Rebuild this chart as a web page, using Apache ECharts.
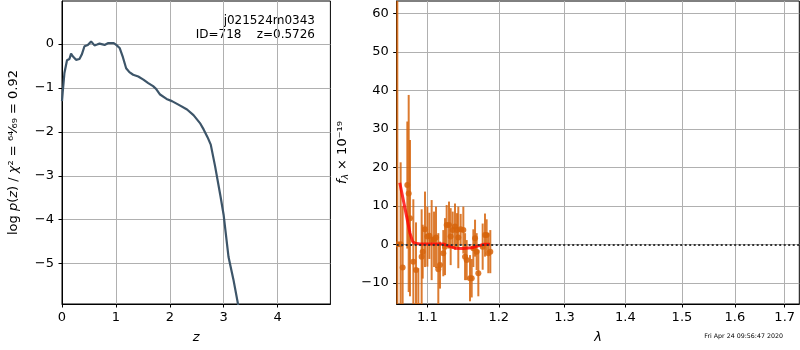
<!DOCTYPE html>
<html><head><meta charset="utf-8">
<script src="https://cdn.jsdelivr.net/npm/echarts@6/dist/echarts.min.js"></script>
<style>html,body{margin:0;padding:0;background:#fff}#c{width:800px;height:350px}</style>
</head><body><div id="c"></div>
<script>
// ---- left panel: log p(z) ----
const zGrid = [0.0, 0.013, 0.045, 0.093, 0.138, 0.168, 0.2, 0.26, 0.324, 0.367, 0.417, 0.479, 0.54, 0.603, 0.65, 0.696, 0.726, 0.79, 0.851, 0.912, 0.96, 1.006, 1.069, 1.13, 1.19, 1.25, 1.32, 1.415, 1.51, 1.6, 1.69, 1.745, 1.82, 1.94, 2.04, 2.16, 2.32, 2.44, 2.56, 2.63, 2.70, 2.76, 2.84, 2.94, 3.0, 3.09, 3.18, 3.27];
const logPz = [-1.3, -1.1, -0.66, -0.37, -0.34, -0.22, -0.28, -0.36, -0.34, -0.24, -0.05, -0.02, 0.06, -0.03, -0.01, 0.01, -0.03, -0.02, 0.02, 0.02, 0.02, -0.02, -0.09, -0.30, -0.55, -0.64, -0.70, -0.74, -0.81, -0.89, -0.96, -1.02, -1.15, -1.25, -1.30, -1.38, -1.49, -1.62, -1.80, -1.95, -2.12, -2.29, -2.78, -3.46, -3.9, -4.85, -5.36, -5.95];
const zTicks = [0, 1, 2, 3, 4];
const logPTicks = [-5, -4, -3, -2, -1, 0];

// ---- right panel: spectrum ----
const specLambda = [1.0605, 1.0648, 1.0674, 1.0735, 1.0753, 1.0770, 1.0814, 1.0849, 1.0880, 1.0924, 1.0938, 1.0969, 1.1000, 1.1027, 1.1058, 1.1090, 1.1117, 1.1148, 1.1171, 1.1216, 1.1239, 1.1262, 1.1294, 1.1317, 1.1345, 1.1377, 1.1405, 1.1423, 1.1456, 1.1493, 1.1517, 1.1540, 1.1587, 1.1611, 1.1634, 1.1658, 1.1681, 1.1705, 1.1767, 1.1800, 1.1824, 1.1848, 1.1877];
const specFlux = [0, 0, -6, 15.4, 13.2, 6.8, -4.5, -6.7, -16, -3.2, -1.9, 3.9, 2.0, 2.2, 1.1, 1.3, 1.8, -6.5, -5.4, -2.3, -0.6, 5.0, 5.0, 2.0, 3.7, 4.6, 3.7, 1.8, 3.9, 3.7, -3.2, -4.1, -8.8, -8.8, -1.0, 1.6, -1.9, -7.5, -0.6, 2.4, 2.4, -2.3, -1.9];
const specErr = [100, 21.3, 16, 16.5, 25.6, 20.3, 16.2, 12.4, 9.8, 12.3, 7, 9.8, 7.8, 6, 10.4, 7.2, 8, 9.4, 6.1, 6, 7.4, 5.2, 6.1, 7.4, 4.8, 6, 4.4, 8, 4, 6.1, 6.1, 5.2, 6, 5, 4.9, 4.8, 4.8, 6, 6, 5.6, 4.1, 5.2, 5.6];
const modelLambda = [1.0637, 1.0713, 1.0770, 1.0805, 1.0836, 1.0900, 1.1216, 1.1285, 1.1377, 1.1493, 1.1634, 1.1705, 1.1776, 1.1872];
const modelFlux = [16.0, 8.5, 2.9, 0.7, 0.3, 0.1, 0.1, -0.4, -1.0, -1.1, -0.8, -0.4, 0, 0];
const lamTicks = [1.1, 1.2, 1.3, 1.4, 1.5, 1.6, 1.7];
const fluxTicks = [-10, 0, 10, 20, 30, 40, 50, 60];

const FONT = 'DejaVu Sans';
const ORANGE = 'rgba(214,100,12,0.85)';
const minus = v => (v < 0 ? '\u2212' + Math.abs(v) : String(v));

const lnLam = v => Math.log(v);

function axisCommon(ticks, fmt, margin) {
  return {
    axisLine: { show: true, onZero: false, lineStyle: { color: '#000', width: 1 } },
    axisTick: { show: true, inside: false, length: 3.5, lineStyle: { color: '#000', width: 1 }, customValues: ticks },
    axisLabel: { show: true, customValues: ticks, formatter: fmt, color: '#000', fontFamily: FONT, fontSize: 13, margin: margin },
    splitLine: { show: true, lineStyle: { color: '#b0b0b0', width: 1 } }
  };
}

const richName = {
  n: { fontFamily: FONT, fontSize: 13, color: '#000' },
  i: { fontFamily: FONT, fontSize: 13, fontStyle: 'italic', color: '#000' },
  sub: { fontFamily: FONT, fontSize: 9, fontStyle: 'italic', color: '#000', verticalAlign: 'bottom', padding: [6, 0, 0, 0] }
};

const option = {
  animation: false,
  backgroundColor: '#fff',
  grid: [
    { left: 62, top: 1, width: 268.4, height: 303, show: true, borderColor: '#000', borderWidth: 1, containLabel: false },
    { left: 396.7, top: 1, width: 402.6, height: 303, show: true, borderColor: '#000', borderWidth: 1, containLabel: false }
  ],
  xAxis: [
    Object.assign({ type: 'value', gridIndex: 0, min: 0, max: 4.98,
      name: '{i|z}', nameLocation: 'middle', nameGap: 27, nameTextStyle: { rich: richName } },
      axisCommon(zTicks, v => minus(v), 7)),
    Object.assign({ type: 'value', gridIndex: 1, min: lnLam(1.0597), max: lnLam(1.7305),
      name: '{i|λ}', nameLocation: 'middle', nameGap: 27, nameTextStyle: { rich: richName } },
      axisCommon(lamTicks.map(lnLam), v => Math.exp(v).toFixed(1), 7))
  ],
  yAxis: [
    Object.assign({ type: 'value', gridIndex: 0, min: -5.92, max: 0.98,
      name: '{n|log }{i|p}{n|(}{i|z}{n|) / }{i|χ}{n|² = ⁶⁴⁄₆₉ = 0.92}', nameLocation: 'middle', nameGap: 42,
      nameTextStyle: { rich: richName } },
      axisCommon(logPTicks, v => minus(v), 8)),
    Object.assign({ type: 'value', gridIndex: 1, min: -15.5, max: 63.2,
      name: '{i|f}{sub|λ}{n| × 10⁻¹⁹}', nameLocation: 'middle', nameGap: 45,
      nameTextStyle: { rich: richName } },
      axisCommon(fluxTicks, v => minus(v), 8))
  ],
  graphic: [
    { type: 'text', x: 315, y: 14, style: { text: 'j021524m0343\nID=718    z=0.5726', align: 'right', verticalAlign: 'top', font: '12px "DejaVu Sans"', lineHeight: 14, fill: '#000' } }
  ],
  title: {
    text: 'Fri Apr 24 09:56:47 2020', right: 12, bottom: 6,
    textStyle: { fontFamily: FONT, fontSize: 6.3, fontWeight: 'normal', color: '#000' }
  },
  series: [
    {
      type: 'line', xAxisIndex: 0, yAxisIndex: 0,
      data: zGrid.map((z, i) => [z, logPz[i]]),
      showSymbol: false, symbol: 'none', clip: true,
      lineStyle: { color: '#3d5569', width: 2.2 }
    },
    {
      type: 'custom', xAxisIndex: 1, yAxisIndex: 1, clip: true,
      data: specLambda.map((l, i) => [lnLam(l), specFlux[i], specErr[i]]),
      renderItem: function (params, api) {
        const x = api.value(0), v = api.value(1), e = api.value(2);
        const p0 = api.coord([x, v - e]), p1 = api.coord([x, v + e]), pc = api.coord([x, v]);
        return {
          type: 'group',
          children: [
            { type: 'line', shape: { x1: p0[0], y1: p0[1], x2: p1[0], y2: p1[1] }, style: { stroke: ORANGE, lineWidth: 2 } },
            { type: 'circle', shape: { cx: pc[0], cy: pc[1], r: 3 }, style: { fill: ORANGE } }
          ]
        };
      }
    },
    {
      type: 'line', xAxisIndex: 1, yAxisIndex: 1,
      data: modelLambda.map((l, i) => [lnLam(l), modelFlux[i]]),
      showSymbol: false, symbol: 'none',
      lineStyle: { color: 'rgba(255,0,0,0.8)', width: 3 },
      markLine: {
        silent: true, symbol: ['none', 'none'], label: { show: false },
        lineStyle: { type: [2, 2.5], color: '#333', width: 1.8 },
        data: [{ yAxis: 0 }]
      }
    }
  ]
};

const chart = echarts.init(document.getElementById('c'), null, { renderer: 'canvas' });
chart.setOption(option);
</script></body></html>
